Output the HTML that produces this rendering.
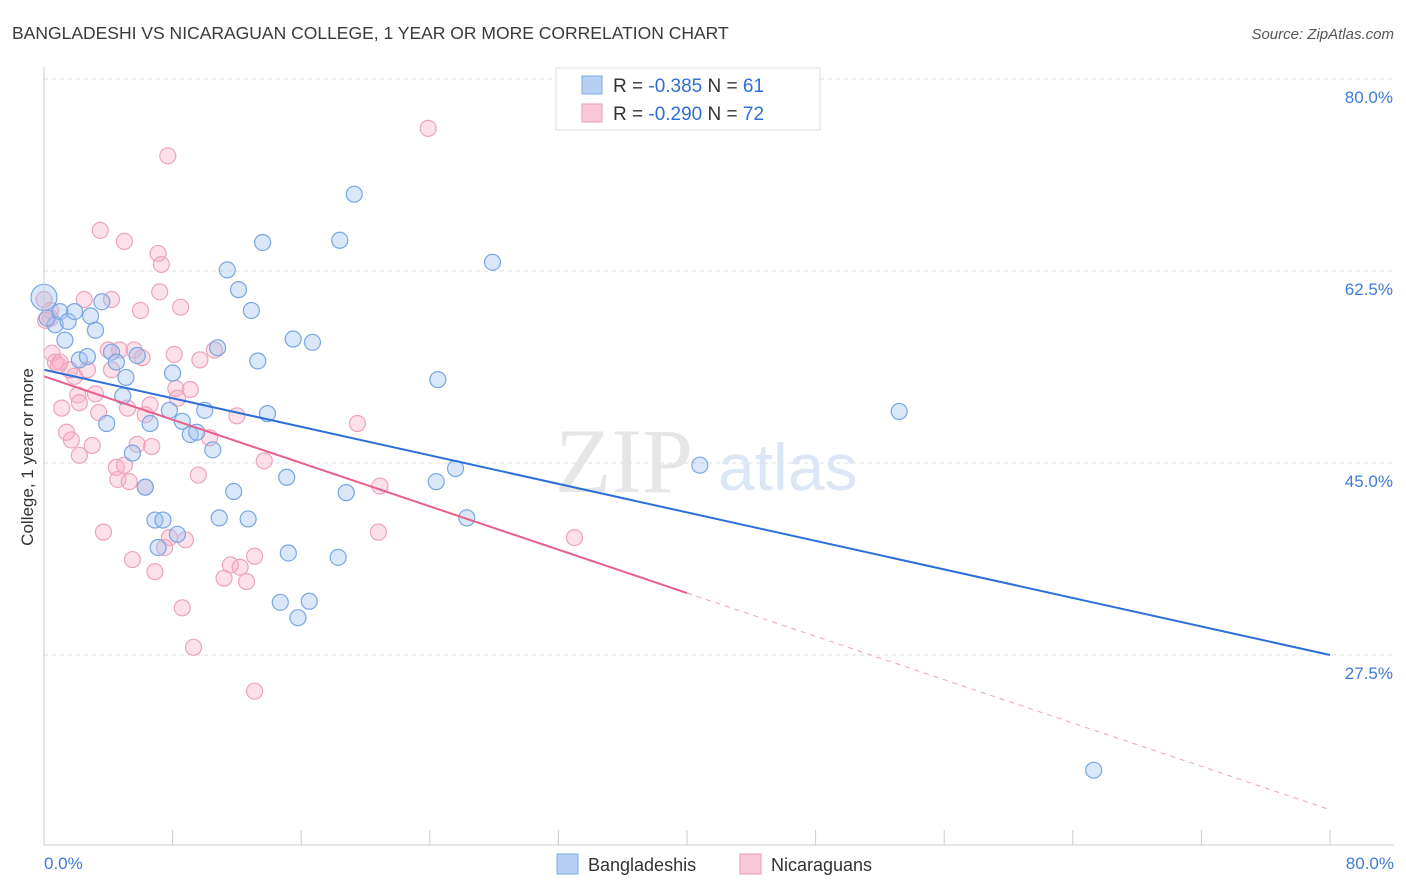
<!DOCTYPE html>
<html><head><meta charset="utf-8"><style>
body{margin:0;background:#fff;font-family:"Liberation Sans",sans-serif;}
svg{display:block}
</style></head><body>
<svg id="chart" width="1406" height="892" xmlns="http://www.w3.org/2000/svg">
<text x="12" y="39" font-size="17.5" fill="#3a3a3a">BANGLADESHI VS NICARAGUAN COLLEGE, 1 YEAR OR MORE CORRELATION CHART</text>
<text x="1394" y="39" font-size="15" fill="#555" text-anchor="end" font-style="italic">Source: ZipAtlas.com</text>
<g id="grid"></g>
<text x="555" y="492" font-size="92" fill="#e6e6e6" font-family="Liberation Serif,serif">ZIP</text>
<text x="718" y="490" font-size="66" fill="#dce7f5">atlas</text>
<g id="pts"></g>
<g id="lines"></g>
<g id="axes"></g>
<text transform="translate(33,457) rotate(-90)" font-size="17" fill="#333" text-anchor="middle">College, 1 year or more</text>
<g>
<rect x="556" y="68" width="264" height="62" fill="#fff" stroke="#ddd"/>
<rect x="582" y="76" width="20" height="18" fill="#b7d0f3" stroke="#7ea8e4"/>
<text x="613" y="92" font-size="19" fill="#333">R = <tspan fill="#2c6fd6">-0.385</tspan>   N = <tspan fill="#2c6fd6">61</tspan></text>
<rect x="582" y="104" width="20" height="18" fill="#f9c9d8" stroke="#ef9ab5"/>
<text x="613" y="120" font-size="19" fill="#333">R = <tspan fill="#2c6fd6">-0.290</tspan>   N = <tspan fill="#2c6fd6">72</tspan></text>
</g>
<g>
<rect x="557" y="854" width="21" height="20" fill="#b7d0f3" stroke="#7ea8e4"/>
<text x="588" y="871" font-size="18" fill="#333">Bangladeshis</text>
<rect x="740" y="854" width="21" height="20" fill="#f9c9d8" stroke="#ef9ab5"/>
<text x="771" y="871" font-size="18" fill="#333">Nicaraguans</text>
</g>
</svg>
<script>
const blueX=[0,0.7,0.2,1.0,1.3,1.5,1.9,2.2,2.7,2.9,3.2,3.6,3.9,4.2,4.5,4.9,5.1,5.5,5.8,6.3,6.6,6.9,7.1,7.4,7.8,8.0,8.3,8.6,9.1,9.5,10.0,10.5,10.8,10.9,11.4,11.8,12.1,12.7,12.9,13.3,13.6,13.9,14.7,15.1,15.2,15.5,15.8,16.5,16.7,18.3,18.4,18.8,19.3,24.5,24.4,25.6,26.3,27.9,40.8,53.2,65.3];
const blueY=[60.1,57.6,58.2,58.8,56.2,57.9,58.8,54.4,54.7,58.4,57.1,59.7,48.6,55.1,54.2,51.1,52.8,45.9,54.8,42.8,48.6,39.8,37.3,39.8,49.8,53.2,38.5,48.8,47.6,47.8,49.8,46.2,55.5,40.0,62.6,42.4,60.8,39.9,58.9,54.3,65.1,49.5,32.3,43.7,36.8,56.3,30.9,32.4,56.0,36.4,65.3,42.3,69.5,52.6,43.3,44.5,40.0,63.3,44.8,49.7,17.0];
const pinkX=[0,0.4,0.5,0.7,0.9,1.1,1.4,1.6,1.7,1.9,2.1,2.2,2.5,2.7,3.0,3.2,3.4,3.5,3.7,4.0,4.2,4.5,4.6,4.7,5.0,5.2,5.3,5.5,5.6,5.8,6.0,6.1,6.3,6.6,6.7,6.9,7.1,7.2,7.3,7.5,7.7,7.8,8.1,8.2,8.3,8.5,8.6,8.8,9.1,9.3,9.6,9.7,10.3,10.6,11.2,11.6,12.0,12.2,12.6,13.1,13.1,13.7,19.5,20.9,20.8,23.9,33.0,0.4,1.0,6.3,2.2,4.2,0.1,5.0];
const pinkY=[59.9,58.2,55.0,54.2,53.9,50.0,47.8,53.5,47.1,52.9,51.2,50.5,59.9,53.5,46.6,51.3,49.6,66.2,38.7,55.3,53.5,44.6,43.5,55.3,65.2,50.0,43.3,36.2,55.3,46.7,58.9,54.6,42.8,50.3,46.5,35.1,64.1,60.6,63.1,37.3,73.0,38.2,54.9,51.8,50.9,59.2,31.8,38.0,51.7,28.2,43.9,54.4,47.3,55.3,34.5,35.7,49.3,35.5,34.2,36.5,24.2,45.2,48.6,42.9,38.7,75.5,38.2,58.9,54.2,49.4,45.7,59.9,58.0,44.8];
const blueTrend=[53.5,27.5];
const pinkTrend=[52.9,13.4];
const pinkSolidEnd=40;
const yTicks=[80,62.5,45,27.5];
const yTickLabels=["80.0%","62.5%","45.0%","27.5%"];
const xTickVals=[0,8,16,24,32,40,48,56,64,72,80];
const NS="http://www.w3.org/2000/svg";
const sx=v=>44+v/80*1286;
const sy=v=>79+(80-v)/17.5*192;
function mk(tag,attrs,parent){const e=document.createElementNS(NS,tag);for(const k in attrs)e.setAttribute(k,attrs[k]);parent.appendChild(e);return e;}
const grid=document.getElementById('grid'),axes=document.getElementById('axes'),pts=document.getElementById('pts'),lines=document.getElementById('lines');
yTicks.forEach((t,i)=>{
 const l=mk('line',{x1:44,x2:1394,y1:sy(t),y2:sy(t),stroke:'#ddd','stroke-dasharray':'4,4'},grid);
 
 
 const tx=mk('text',{x:1393,y:sy(t)+24,'font-size':17,fill:'#3f7bd8','text-anchor':'end'},axes);
 tx.textContent=yTickLabels[i];
 
 
});
mk('line',{x1:44,x2:44,y1:67,y2:845,stroke:'#ccc'},axes);
mk('line',{x1:44,x2:1394,y1:845,y2:845,stroke:'#ccc'},axes);
xTickVals.forEach(v=>{const t=mk('line',{x1:sx(v),x2:sx(v),y1:830,y2:845,stroke:'#ccc'},axes);
 
 });
const x0=mk('text',{x:44,y:869,'font-size':17,fill:'#3f7bd8'},axes);x0.textContent='0.0%';


const x1=mk('text',{x:1394,y:869,'font-size':17,fill:'#3f7bd8','text-anchor':'end'},axes);x1.textContent='80.0%';


pinkX.forEach((x,i)=>{const c=mk('circle',{cx:sx(x),cy:sy(pinkY[i]),r:8,fill:'rgba(245,170,195,0.35)',stroke:'#eea3bb','stroke-width':1.2},pts);
 
 });
blueX.forEach((x,i)=>{const c=mk('circle',{cx:sx(x),cy:sy(blueY[i]),r:i===0?13:8,fill:'rgba(160,195,240,0.4)',stroke:'#78a6e4','stroke-width':1.2},pts);
 
 });
const bl=mk('line',{x1:sx(0),y1:sy(blueTrend[0]),x2:sx(80),y2:sy(blueTrend[1]),stroke:'#2c6fd6','stroke-width':2},lines);


const pm=v=>pinkTrend[0]+(pinkTrend[1]-pinkTrend[0])*v/80;
const pl=mk('line',{x1:sx(0),y1:sy(pinkTrend[0]),x2:sx(pinkSolidEnd),y2:sy(pm(pinkSolidEnd)),stroke:'#e8608a','stroke-width':2},lines);


const pd=mk('line',{x1:sx(pinkSolidEnd),y1:sy(pm(pinkSolidEnd)),x2:sx(80),y2:sy(pinkTrend[1]),stroke:'#eea0b8','stroke-width':1,'stroke-dasharray':'5,5'},lines);


</script>
</body></html>
